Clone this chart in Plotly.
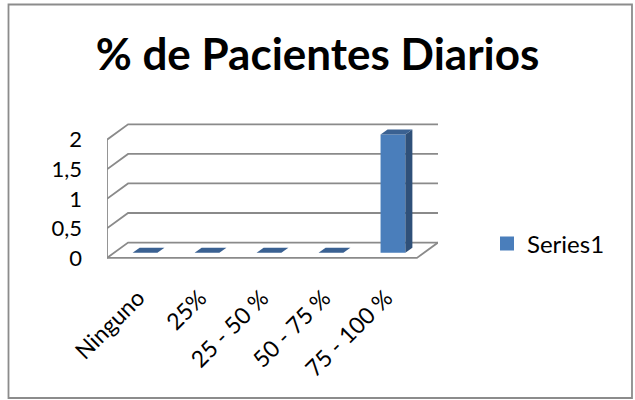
import plotly.graph_objects as go

# Data
categories = ["Ninguno", "25%", "25 - 50 %", "50 - 75 %", "75 - 100 %"]
values = [0, 0, 0, 0, 2]
y_ticks = [0, 0.5, 1, 1.5, 2]
y_tick_labels = ["0", "0,5", "1", "1,5", "2"]
series_name = "Series1"

# Pseudo-3D geometry (in axis units)
DX = 0.34          # horizontal depth shift, category units
DY = 0.26          # vertical depth shift, value units
BAR_W = 0.40       # bar width, category units
D_FRONT, D_BACK = 1 / 3, 2 / 3   # bar slab inside the depth

FRONT = "#4A7EBB"
SIDE = "#2F5079"
TOP = "#3A6192"
GRID = "#8A8A8A"
FONT = "Lato"

# Layout in pixels
W, H = 635, 400
ML, MR, MT, MB = 107, 197, 122, 135
PW, PH = W - ML - MR, H - MT - MB

x0, x1 = -0.5, len(categories) - 0.5
y_range = [-0.12, 2.3]


def px_to_paper_x(px):
    return (px - ML) / PW


def px_to_paper_y(py):
    return (H - MB - py) / PH


fig = go.Figure()


def add_line(xs, ys):
    fig.add_trace(go.Scatter(x=xs, y=ys, mode="lines",
                             line=dict(color=GRID, width=1.8),
                             hoverinfo="skip", showlegend=False))


# Side wall edges, back wall gridlines and floor
for v in y_ticks:
    add_line([x0, x0 + DX, x1 + DX], [v, v + DY, v + DY])
add_line([x0, x0], [0, y_ticks[-1]])
add_line([x0, x1, x1 + DX], [0, 0, DY])


def add_poly(xs, ys, color):
    fig.add_trace(go.Scatter(x=xs + [xs[0]], y=ys + [ys[0]], mode="lines",
                             fill="toself", fillcolor=color,
                             line=dict(width=0, color=color),
                             hoverinfo="skip", showlegend=False))


for i, v in enumerate(values):
    fx, fy = D_FRONT * DX, D_FRONT * DY
    bx, by = D_BACK * DX, D_BACK * DY
    left, right = i - BAR_W / 2, i + BAR_W / 2
    if v > 0:
        add_poly([left + fx, right + fx, right + fx, left + fx],
                 [fy, fy, v + fy, v + fy], FRONT)
        add_poly([right + fx, right + bx, right + bx, right + fx],
                 [fy, by, v + by, v + fy], SIDE)
    add_poly([left + fx, right + fx, right + bx, left + bx],
             [v + fy, v + fy, v + by, v + by], TOP)

# Legend entry
fig.add_trace(go.Scatter(x=[None], y=[None], mode="markers", name=series_name,
                         marker=dict(symbol="square", size=14, color=FRONT)))

# Outer chart frame
fig.add_shape(type="rect", xref="paper", yref="paper",
              x0=px_to_paper_x(8.5), x1=px_to_paper_x(632),
              y0=px_to_paper_y(398), y1=px_to_paper_y(4.5),
              line=dict(color="#8C8C8C", width=1.8), layer="below")

fig.update_layout(
    width=W, height=H,
    margin=dict(l=ML, r=MR, t=MT, b=MB),
    paper_bgcolor="white", plot_bgcolor="white",
    font=dict(family=FONT, color="black", size=22),
    title=dict(text="<b>% de Pacientes Diarios</b>", x=0.5, xref="container",
               xanchor="center", y=1 - 55 / H, yref="container", yanchor="middle",
               font=dict(family=FONT, size=44, color="black")),
    showlegend=True,
    legend=dict(x=px_to_paper_x(487), y=px_to_paper_y(244), xanchor="left",
                yanchor="middle", font=dict(size=24), bgcolor="rgba(0,0,0,0)"),
    xaxis=dict(range=[x0, x1 + DX], tickvals=list(range(len(categories))),
               ticktext=categories, tickangle=-45, showgrid=False,
               zeroline=False, showline=False, ticks="", ticklabelstandoff=14,
               tickfont=dict(size=23)),
    yaxis=dict(range=y_range, tickvals=y_ticks, ticktext=y_tick_labels,
               showgrid=False, zeroline=False, showline=False, ticks="",
               ticklabelstandoff=24),
)

fig.write_html("out.html")
